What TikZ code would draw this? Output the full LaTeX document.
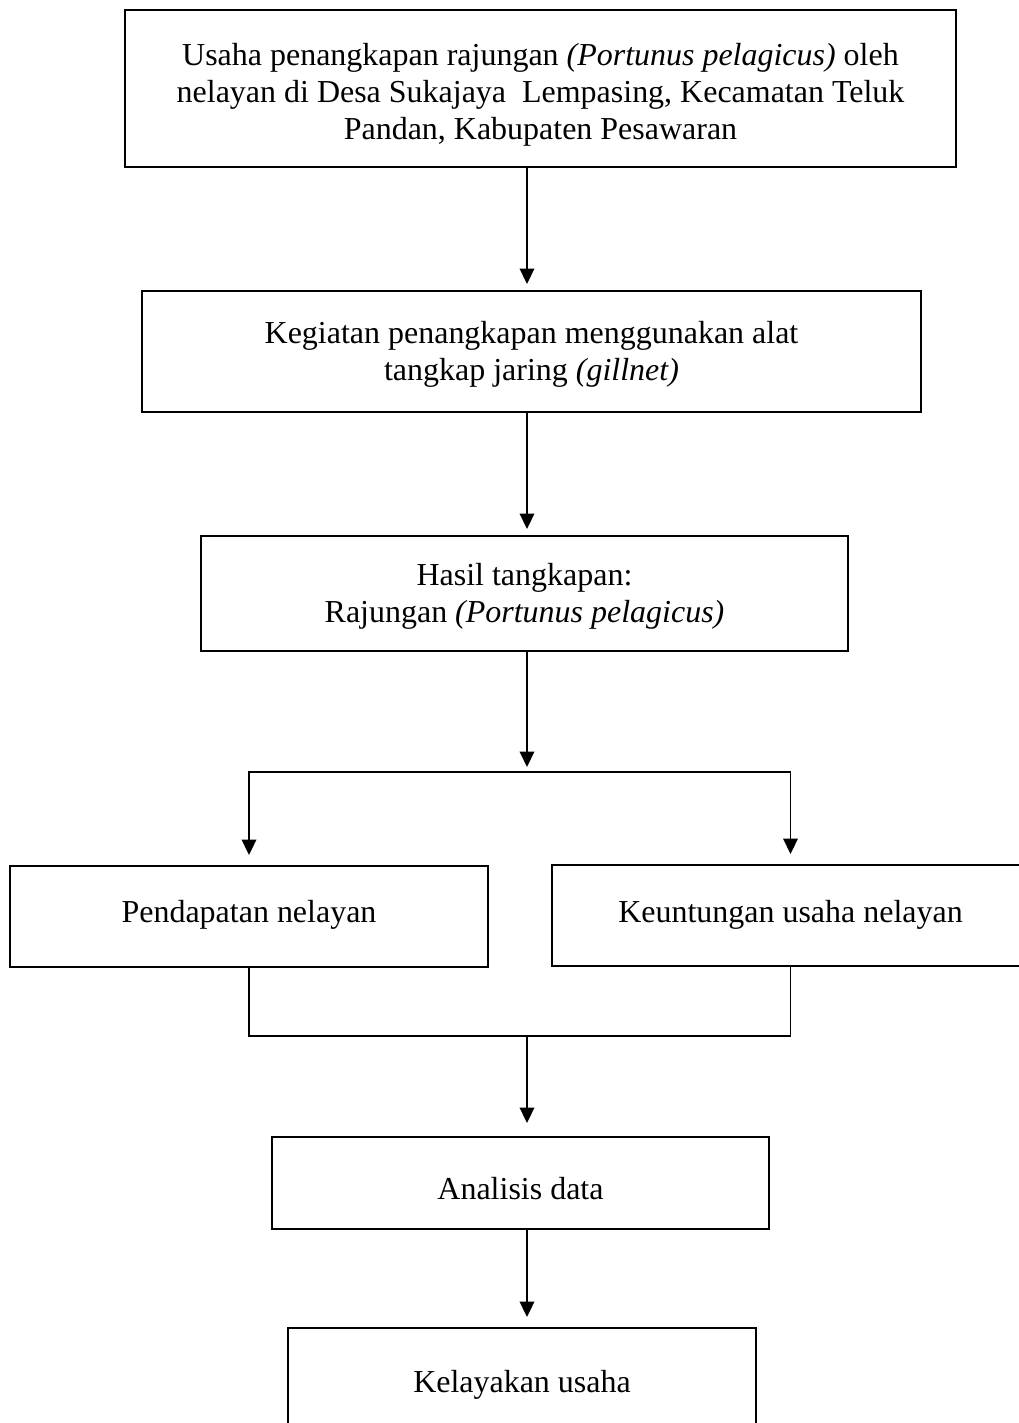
\documentclass[tikz,border=0pt]{standalone}
\usepackage{fontspec}
\setmainfont{Liberation Serif}
\usepackage{tikz}
\usetikzlibrary{arrows.meta,positioning,calc}

\tikzset{
  kotak/.style={draw, line width=1.1pt, align=center, inner sep=0pt,
    font=\fontsize{18.2}{21.2}\selectfont},
  angkat/.style={text height=#1, text depth=0pt},
  panah/.style={-{Triangle[length=0.31cm,width=0.29cm]}, line width=1.1pt},
}

\begin{document}
\begin{tikzpicture}[x=0.02cm, y=-0.02cm]
    \useasboundingbox (0,0) rectangle (1018,1423);

    \node (U) [kotak, angkat=2.06cm, minimum width=16.62cm, minimum height=3.14cm] at (540.5,88.5)
        {Usaha penangkapan rajungan \textit{(Portunus pelagicus)} oleh\\
         nelayan di Desa Sukajaya~ Lempasing, Kecamatan Teluk\\
         Pandan, Kabupaten Pesawaran};
    \node (K) [kotak, angkat=1.16cm, minimum width=15.58cm, minimum height=2.42cm] at (531.5,351.5)
        {Kegiatan penangkapan menggunakan alat\\ tangkap jaring \textit{(gillnet)}};
    \node (H) [kotak, angkat=1.16cm, minimum width=12.94cm, minimum height=2.30cm] at (524.5,593.5)
        {Hasil tangkapan:\\ Rajungan \textit{(Portunus pelagicus)}};
    \node (P) [kotak, angkat=0.22cm, minimum width=9.56cm, minimum height=2.02cm] at (249,916.5)
        {Pendapatan nelayan};
    \node (KU) [kotak, angkat=0.26cm, minimum width=9.56cm, minimum height=2.02cm] at (790.5,915.5)
        {Keuntungan usaha nelayan};
    \node (A) [kotak, angkat=0.64cm, minimum width=9.94cm, minimum height=1.84cm] at (520.5,1183)
        {Analisis data};
    \node (KL) [kotak, angkat=0.36cm, minimum width=9.36cm, minimum height=2.2cm] at (522,1383)
        {Kelayakan usaha};

    \coordinate (spine) at (527,0);
    \coordinate (split) at (527,772);
    \coordinate (join) at (527,1036);

    \draw[panah, shorten >=0.12cm] (U.south -| spine) -- (K.north -| spine);
    \draw[panah, shorten >=0.12cm] (K.south -| spine) -- (H.north -| spine);
    \draw[panah, shorten >=0.1cm] (H.south -| spine) -- (split);
    \draw[panah, shorten >=0.2cm] (split) -| (P.north);
    \draw[panah, shorten >=0.2cm] (split) -| (KU.north);
    \draw[line width=1.1pt] (P.south) |- (join) -| (KU.south);
    \draw[panah, shorten >=0.26cm] (join) -- (A.north -| join);
    \draw[panah, shorten >=0.2cm] (A.south -| spine) -- (KL.north -| spine);
\end{tikzpicture}
\end{document}
